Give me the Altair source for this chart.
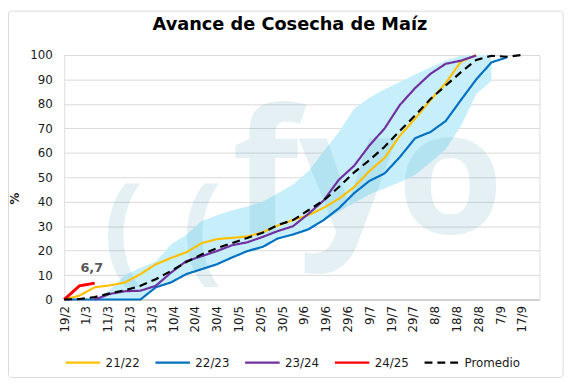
import altair as alt
import pandas as pd

# ---- data ----
chart_title = "Avance de Cosecha de Maíz"
x_labels = ["19/2", "1/3", "11/3", "21/3", "31/3", "10/4", "20/4", "30/4", "10/5", "20/5",
            "30/5", "9/6", "19/6", "29/6", "9/7", "19/7", "29/7", "8/8", "18/8", "28/8",
            "7/9", "17/9"]
label_days = [10 * i for i in range(len(x_labels))]
y_ticks = list(range(0, 101, 10))

series_names = ["21/22", "22/23", "23/24", "24/25", "Promedio"]
series_colors = ["#FFC000", "#0070C0", "#7030A0", "#FF0000", "#000000"]

# weekly observations starting 19/2 (day 0, 7, 14, ...)
s_2122 = [0, 1.6, 5, 5.8, 7, 10.4, 14.4, 17, 19.3, 23, 24.7, 25.2, 25.8, 27.5, 30.3, 32.5,
          34.5, 37.5, 41.2, 46, 52.5, 58, 67, 74, 81.5, 88.5, 97.3, 100]
s_2223 = [0, 0, 0, 0, 0, 0, 5, 7, 10.4, 12.4, 14.4, 17.2, 19.8, 21.5, 25, 26.6, 28.7, 32.5,
          37.3, 43.5, 48.5, 51.6, 58.3, 66, 68.5, 73, 81.6, 90, 97, 99]
s_2324 = [None, None, 0, 2.3, 3.4, 3.6, 5.6, 11, 15.7, 17.7, 19.8, 22.2, 23.4, 25.6, 28, 30,
          35, 40.5, 49, 54.7, 63, 70, 79.6, 86.5, 92.3, 96.4, 97.7, 99.8]
s_2425 = [0, 5.6, 6.7]
promedio = [0, 0.2, 1, 2.5, 3.8, 5.6, 8.3, 11.7, 15.3, 18.4, 21, 23.1, 25.2, 27.3, 30.5, 32.5,
            36.5, 40.5, 46, 52, 57, 62.5, 69, 75.3, 82, 87.5, 93, 98, 99.7, 99.3, 100]

band_upper = [0, 0, 0, 4, 10, 13, 15.5, 22.5, 26.5, 32, 34.5, 36.5, 38, 40, 43.5, 47, 52.5,
              60.5, 68.5, 78, 82.5, 86, 89, 92, 95, 97.8, 99.7, 100, 100]
band_lower = [0, 0, 0, 0, 0, 0, 5, 7, 10.4, 12.4, 14.4, 17.2, 19.8, 21.5, 25, 26.6, 28.7, 32,
              36, 39.5, 43, 45.5, 48, 51, 56, 61.5, 71, 84, 89.5]

series_values = [s_2122, s_2223, s_2324, s_2425, promedio]

# ---- tables ----
rows = []
for name, vals in zip(series_names, series_values):
    for k, v in enumerate(vals):
        if v is not None:
            rows.append({"serie": name, "dia": 7 * k, "valor": v})
lines_df = pd.DataFrame(rows)

band_df = pd.DataFrame({
    "dia": [7 * k for k in range(len(band_upper))],
    "min": band_lower,
    "max": band_upper,
})

last_red = pd.DataFrame({
    "dia": [7 * (len(s_2425) - 1)],
    "valor": [s_2425[-1]],
    "txt": [str(s_2425[-1]).replace(".", ",")],
})

label_expr = "[" + ",".join("'" + s + "'" for s in x_labels) + "][round(datum.value/10)]"

FONT = "DejaVu Sans"
x_scale = alt.Scale(domain=[0, 218], nice=False, zero=False)
y_scale = alt.Scale(domain=[0, 100], nice=False)

x_axis = alt.Axis(values=label_days, labelExpr=label_expr, labelAngle=270,
                  labelOverlap=False, labelBound=False, labelFlush=False,
                  grid=False, ticks=False, domain=True, domainColor="#bfbfbf",
                  labelPadding=6, labelFontSize=12, labelColor="#1a1a1a",
                  labelFont=FONT, title=None)
y_axis = alt.Axis(values=y_ticks, grid=True, gridColor="#d9d9d9",
                  labelOverlap=False, labelFlush=False,
                  ticks=False, domain=False, labelPadding=12, labelFontSize=12,
                  labelColor="#1a1a1a", labelFont=FONT,
                  title="%", titleFont=FONT, titleFontSize=12, titleFontWeight="bold",
                  titleAngle=270, titleX=-50, titleY=145, titleAlign="center",
                  titleBaseline="middle", titleColor="#1a1a1a")

band = alt.Chart(band_df).mark_area(color="#c7effb", opacity=1).encode(
    x=alt.X("dia:Q", scale=x_scale, axis=x_axis),
    y=alt.Y("min:Q", scale=y_scale, axis=y_axis),
    y2="max:Q",
)

wm_df = pd.DataFrame({"t": ["fyo"]})
watermark = alt.Chart(wm_df).mark_text(
    font="Open Sans", fontWeight="bold", fontSize=175, color="#298da9", opacity=0.12,
    align="center", baseline="alphabetic",
).encode(x=alt.value(308), y=alt.value(181), text="t:N")

wm_paren = alt.Chart(pd.DataFrame({"t": ["(", "("], "px": [60, 140]})).mark_text(
    font="Open Sans", fontWeight="bold", fontSize=120, color="#298da9", opacity=0.12,
    align="center", baseline="middle",
).encode(x=alt.X("px:Q", scale=None), y=alt.value(180), text="t:N")

lines = alt.Chart(lines_df).mark_line(interpolate="linear").encode(
    x=alt.X("dia:Q", scale=x_scale, axis=x_axis),
    y=alt.Y("valor:Q", scale=y_scale, axis=y_axis),
    color=alt.Color("serie:N", scale=alt.Scale(domain=series_names, range=series_colors),
                    legend=alt.Legend(title=None, orient="none", direction="horizontal",
                                      legendX=0, legendY=293, symbolType="stroke",
                                      symbolSize=1225, symbolStrokeWidth=2.5,
                                      labelOffset=4, columnPadding=10,
                                      labelFont=FONT, labelFontSize=12,
                                      labelColor="#1a1a1a")),
    strokeDash=alt.StrokeDash("serie:N", scale=alt.Scale(
        domain=series_names, range=[[1, 0], [1, 0], [1, 0], [1, 0], [8, 5]])),
    strokeWidth=alt.condition("datum.serie == '24/25'", alt.value(3),
                              alt.value(2.2)),
)

red_label = alt.Chart(last_red).mark_text(
    font=FONT, fontWeight="bold", fontSize=13, color="#595959", dx=-3, dy=-15,
).encode(x=alt.X("dia:Q", scale=x_scale, axis=x_axis),
         y=alt.Y("valor:Q", scale=y_scale, axis=y_axis), text="txt:N")

title_mark = alt.Chart(pd.DataFrame({"t": [chart_title]})).mark_text(
    font=FONT, fontWeight="bold", fontSize=18, color="#000000",
    align="center", baseline="alphabetic",
).encode(x=alt.value(229), y=alt.value(-25), text="t:N")

frame = alt.Chart(pd.DataFrame({"a": [0]})).mark_rect(
    filled=False, stroke="#d9d9d9", strokeWidth=1, cornerRadius=3,
).encode(x=alt.value(-56.5), x2=alt.value(506), y=alt.value(-44.5), y2=alt.value(327))

chart = alt.layer(band, watermark, wm_paren, lines, red_label, title_mark, frame).resolve_scale(
    x="shared", y="shared"
).properties(
    width=482, height=248,
    autosize=alt.AutoSizeParams(type="none"),
    padding={"left": 57, "top": 45, "right": 30, "bottom": 83},
).configure_view(stroke=None).configure(background="white")

chart.save("out.html", embed_options={"renderer": "svg", "actions": False})
